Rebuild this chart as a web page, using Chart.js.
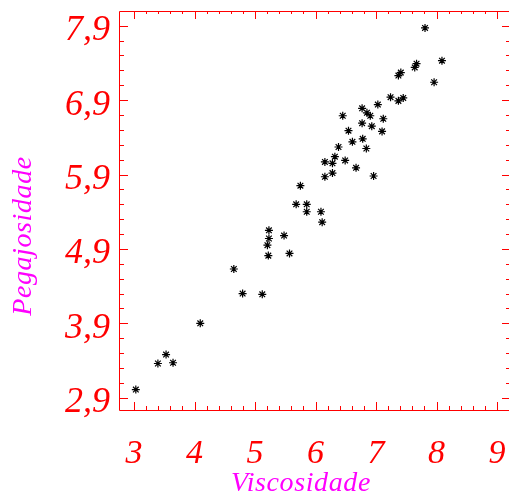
<!DOCTYPE html>
<html>
<head>
<meta charset="utf-8">
<script src="https://cdn.jsdelivr.net/npm/chart.js@4/dist/chart.umd.min.js"></script>
<style>
  html, body { margin: 0; padding: 0; background: #fff; }
</style>
</head>
<body>
<canvas id="scatter" width="509" height="501"></canvas>
<script>
// measured samples: viscosity (x) against tackiness (y)
const viscosidade = [3.03, 3.395, 3.53, 3.645, 4.095, 4.65, 4.795, 5.12, 5.22, 5.57,
  5.205, 5.23, 5.23, 5.48, 6.11, 6.09, 5.855, 5.855, 5.68, 5.75,
  6.155, 6.28, 6.155, 6.28, 6.32, 6.38, 6.49, 6.61, 6.78, 6.84,
  6.545, 6.45, 6.77, 6.93, 7.10, 6.77, 6.85, 6.905, 7.12, 7.03,
  7.24, 7.37, 7.45, 7.81, 8.09, 7.67, 7.64, 7.41, 7.37, 7.96,
  6.67, 6.96];
const pegajosidade = [3.01, 3.36, 3.48, 3.37, 3.90, 4.63, 4.30, 4.29, 4.81, 4.84,
  4.95, 5.04, 5.15, 5.08, 5.26, 5.40, 5.40, 5.50, 5.50, 5.75,
  5.87, 5.92, 6.07, 6.05, 6.14, 6.27, 6.09, 6.34, 6.38, 6.25,
  6.49, 6.69, 6.59, 6.55, 6.48, 6.79, 6.73, 6.69, 6.65, 6.84,
  6.94, 6.89, 6.93, 7.87, 7.43, 7.39, 7.34, 7.27, 7.23, 7.14,
  5.99, 5.88];

const xTicks = [3, 4, 5, 6, 7, 8, 9];
const xTickLabels = ['3', '4', '5', '6', '7', '8', '9'];
const yTicks = [2.9, 3.9, 4.9, 5.9, 6.9, 7.9];
const yTickLabels = ['2,9', '3,9', '4,9', '5,9', '6,9', '7,9'];

const RED = '#ff0000';
const SERIF = '"Liberation Serif", "Times New Roman", serif';

// box around the plot with inward ticks on all four sides (minor every 0.2)
const frame = {
  id: 'frame',
  beforeDatasetsDraw(chart) {
    const { ctx, chartArea: a } = chart;
    const xs = chart.scales.x, ys = chart.scales.y;
    ctx.save();
    ctx.strokeStyle = RED;
    ctx.lineWidth = 1;
    ctx.beginPath();
    ctx.rect(a.left + 0.5, a.top + 0.5, a.right - a.left, a.bottom - a.top);
    for (let i = 0; i <= 30; i++) {
      const v = 3 + i * 0.2;
      if (v > xs.max) break;
      const px = Math.round(xs.getPixelForValue(v)) + 0.5;
      const major = i % 5 === 0;
      ctx.moveTo(px, a.bottom);
      ctx.lineTo(px, a.bottom - (major ? 8 : 4));
      ctx.moveTo(px, a.top);
      ctx.lineTo(px, a.top + (major ? 8 : 3));
    }
    for (let i = 0; i <= 30; i++) {
      const v = 2.9 + i * 0.2;
      if (v > ys.max) break;
      const py = Math.round(ys.getPixelForValue(v)) + 0.5;
      const major = i % 5 === 0;
      ctx.moveTo(a.left, py);
      ctx.lineTo(a.left + (major ? 9 : 5), py);
      ctx.moveTo(a.right, py);
      ctx.lineTo(a.right - (major ? 7 : 3), py);
    }
    ctx.stroke();
    ctx.restore();
  },
  afterDraw(chart) {
    const { ctx } = chart;
    ctx.save();
    ctx.fillStyle = '#ff00ff';
    ctx.font = 'italic 28px ' + SERIF;
    ctx.letterSpacing = '0.6px';
    ctx.textAlign = 'center';
    ctx.textBaseline = 'middle';
    ctx.fillText('Viscosidade', 301, 484);
    ctx.translate(24, 236);
    ctx.rotate(-Math.PI / 2);
    ctx.fillText('Pegajosidade', 0, 0);
    ctx.restore();
  }
};

// fixed axis boxes, no extra room for overhanging edge labels
function fixBox(size) {
  return s => {
    if (s.isHorizontal()) s.height = size; else s.width = size;
    s.paddingLeft = 0; s.paddingRight = 0; s.paddingTop = 0; s.paddingBottom = 0;
  };
}

new Chart(document.getElementById('scatter'), {
  type: 'scatter',
  data: {
    datasets: [{
      data: viscosidade.map((v, i) => ({ x: v, y: pegajosidade[i] })),
      pointStyle: 'star',
      pointRadius: 4,
      pointBorderWidth: 1.2,
      borderColor: '#000',
      backgroundColor: '#000'
    }]
  },
  options: {
    responsive: false,
    animation: false,
    layout: { autoPadding: false, padding: { top: 11, right: 0, left: 0, bottom: 0 } },
    plugins: { legend: { display: false }, tooltip: { enabled: false } },
    scales: {
      x: {
        type: 'linear',
        min: 2.752,
        max: 9.198,
        grid: { display: false },
        border: { display: false },
        afterBuildTicks: s => { s.ticks = xTicks.map(v => ({ value: v })); },
        afterFit: fixBox(91),
        ticks: {
          color: RED,
          padding: 16,
          maxRotation: 0,
          font: { family: SERIF, style: 'italic', size: 34, lineHeight: 1.2 },
          callback: v => xTickLabels[xTicks.indexOf(v)]
        }
      },
      y: {
        type: 'linear',
        min: 2.735,
        max: 8.098,
        grid: { display: false },
        border: { display: false },
        afterBuildTicks: s => { s.ticks = yTicks.map(v => ({ value: v })); },
        afterFit: fixBox(119),
        ticks: {
          color: RED,
          padding: 1,
          labelOffset: 5,
          font: { family: SERIF, style: 'italic', size: 36, lineHeight: 1.2 },
          callback: v => yTickLabels[yTicks.findIndex(t => Math.abs(t - v) < 1e-6)]
        }
      }
    }
  },
  plugins: [frame]
});
</script>
</body>
</html>
